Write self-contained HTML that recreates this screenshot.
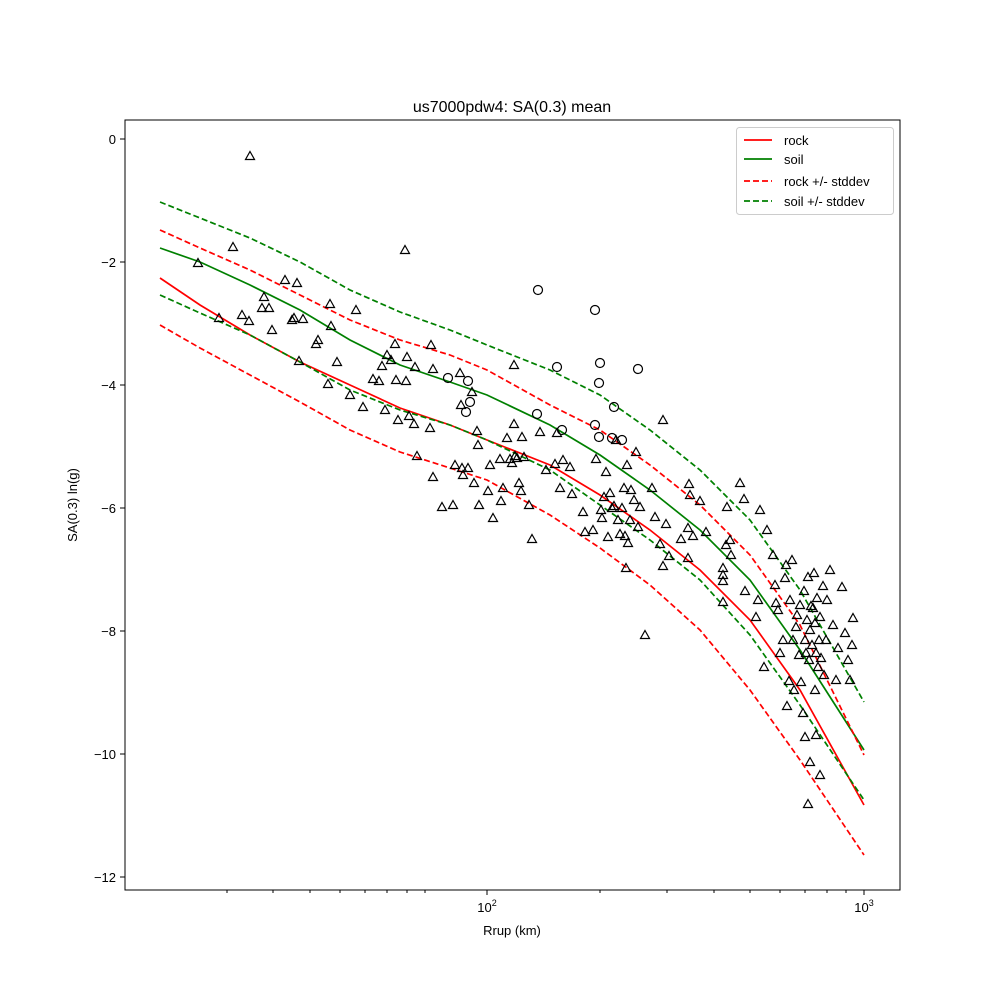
<!DOCTYPE html>
<html><head><meta charset="utf-8"><style>body{margin:0;background:#fff}svg{display:block}</style></head><body>
<svg width="1000" height="1000" viewBox="0 0 1000 1000" xmlns="http://www.w3.org/2000/svg" font-family="Liberation Sans, DejaVu Sans, sans-serif">
<defs><path id="t" d="M0,-4.5 L4.5,3.5 L-4.5,3.5 Z" fill="none" stroke="#000" stroke-width="1.2"/>
<circle id="c" r="4.5" fill="none" stroke="#000" stroke-width="1.2"/></defs>
<rect x="125" y="120" width="775" height="770" fill="none" stroke="#000" stroke-width="1"/>
<text x="512" y="112" font-size="16" text-anchor="middle">us7000pdw4: SA(0.3) mean</text>
<g font-size="13" text-anchor="end">
<line x1="120" x2="125" y1="139" y2="139" stroke="#000"/><text x="116" y="144">0</text>
<line x1="120" x2="125" y1="262" y2="262" stroke="#000"/><text x="116" y="267">−2</text>
<line x1="120" x2="125" y1="385" y2="385" stroke="#000"/><text x="116" y="390">−4</text>
<line x1="120" x2="125" y1="508" y2="508" stroke="#000"/><text x="116" y="513">−6</text>
<line x1="120" x2="125" y1="631" y2="631" stroke="#000"/><text x="116" y="636">−8</text>
<line x1="120" x2="125" y1="754" y2="754" stroke="#000"/><text x="116" y="759">−10</text>
<line x1="120" x2="125" y1="877" y2="877" stroke="#000"/><text x="116" y="882">−12</text>
</g>
<g stroke="#000">
<line x1="487" x2="487" y1="890" y2="895"/><line x1="864" x2="864" y1="890" y2="895"/>
<line x1="227" x2="227" y1="890" y2="893"/><line x1="273" x2="273" y1="890" y2="893"/><line x1="310" x2="310" y1="890" y2="893"/><line x1="340" x2="340" y1="890" y2="893"/><line x1="365" x2="365" y1="890" y2="893"/><line x1="387" x2="387" y1="890" y2="893"/><line x1="407" x2="407" y1="890" y2="893"/><line x1="425" x2="425" y1="890" y2="893"/>
<line x1="600" x2="600" y1="890" y2="893"/><line x1="667" x2="667" y1="890" y2="893"/><line x1="714" x2="714" y1="890" y2="893"/><line x1="750" x2="750" y1="890" y2="893"/><line x1="780" x2="780" y1="890" y2="893"/><line x1="805" x2="805" y1="890" y2="893"/><line x1="827" x2="827" y1="890" y2="893"/><line x1="846" x2="846" y1="890" y2="893"/>
</g>
<text x="487" y="912" font-size="13" text-anchor="middle">10<tspan dy="-6" font-size="9">2</tspan></text>
<text x="864" y="912" font-size="13" text-anchor="middle">10<tspan dy="-6" font-size="9">3</tspan></text>
<text x="512" y="935" font-size="13" text-anchor="middle">Rrup (km)</text>
<text x="77" y="505" font-size="13" text-anchor="middle" transform="rotate(-90 77 505)">SA(0.3) ln(g)</text>
<g fill="none" stroke-width="1.7">
<polyline stroke="#ff0000" points="160,278 200,305 250,335 300,362 350,385 400,408 450,425 487,440 550,465 600,495 650,530 700,570 750,620 800,690 864,805"/>
<polyline stroke="#008000" points="160,248 200,262 250,285 300,310 350,340 400,365 450,382 487,395 550,425 600,455 650,490 700,530 750,580 800,650 864,750"/>
<polyline stroke="#008000" stroke-dasharray="6,3" points="160,202 200,218 250,238 300,262 350,290 400,312 450,330 487,345 550,370 600,395 650,430 700,470 750,520 800,590 864,702"/>
<polyline stroke="#008000" stroke-dasharray="6,3" points="160,295 200,313 250,335 300,362 350,390 400,410 450,425 487,440 550,470 600,505 650,540 700,580 750,635 800,705 864,800"/>
<polyline stroke="#ff0000" stroke-dasharray="6,3" points="160,230 200,248 250,270 300,295 350,320 400,340 450,355 487,370 550,405 600,430 650,465 700,505 750,555 800,625 864,755"/>
<polyline stroke="#ff0000" stroke-dasharray="6,3" points="160,325 200,348 250,375 300,402 350,430 400,452 450,468 487,480 550,515 600,548 650,585 700,630 750,690 800,760 864,855"/>
</g>
<g>
<use href="#c" x="538" y="290"/><use href="#c" x="595" y="310"/><use href="#c" x="557" y="367"/><use href="#c" x="600" y="363"/><use href="#c" x="638" y="369"/><use href="#c" x="599" y="383"/><use href="#c" x="448" y="378"/><use href="#c" x="468" y="381"/><use href="#c" x="470" y="402"/><use href="#c" x="466" y="412"/><use href="#c" x="537" y="414"/><use href="#c" x="562" y="430"/><use href="#c" x="614" y="407"/><use href="#c" x="595" y="425"/><use href="#c" x="622" y="440"/><use href="#c" x="599" y="437"/><use href="#c" x="612" y="438"/>
</g>
<g>
<use href="#t" x="250" y="156"/><use href="#t" x="198" y="263"/><use href="#t" x="233" y="247"/><use href="#t" x="219" y="318"/><use href="#t" x="242" y="315"/><use href="#t" x="249" y="321"/><use href="#t" x="262" y="308"/><use href="#t" x="269" y="308"/><use href="#t" x="264" y="297"/><use href="#t" x="272" y="330"/><use href="#t" x="285" y="280"/><use href="#t" x="297" y="283"/><use href="#t" x="292" y="320"/><use href="#t" x="294" y="318"/><use href="#t" x="303" y="319"/><use href="#t" x="299" y="361"/><use href="#t" x="316" y="344"/><use href="#t" x="318" y="340"/><use href="#t" x="330" y="304"/><use href="#t" x="331" y="326"/><use href="#t" x="337" y="362"/><use href="#t" x="328" y="384"/><use href="#t" x="350" y="395"/><use href="#t" x="356" y="310"/><use href="#t" x="363" y="407"/><use href="#t" x="373" y="379"/><use href="#t" x="379" y="381"/><use href="#t" x="382" y="366"/><use href="#t" x="387" y="355"/><use href="#t" x="391" y="360"/><use href="#t" x="395" y="344"/><use href="#t" x="396" y="380"/><use href="#t" x="405" y="250"/><use href="#t" x="406" y="381"/><use href="#t" x="407" y="357"/><use href="#t" x="415" y="367"/><use href="#t" x="385" y="410"/><use href="#t" x="398" y="420"/><use href="#t" x="409" y="416"/><use href="#t" x="414" y="424"/><use href="#t" x="417" y="456"/><use href="#t" x="430" y="428"/><use href="#t" x="433" y="369"/><use href="#t" x="431" y="345"/><use href="#t" x="433" y="477"/><use href="#t" x="442" y="507"/><use href="#t" x="453" y="505"/><use href="#t" x="455" y="465"/><use href="#t" x="460" y="373"/><use href="#t" x="461" y="405"/><use href="#t" x="462" y="468"/><use href="#t" x="463" y="475"/><use href="#t" x="468" y="468"/><use href="#t" x="472" y="392"/><use href="#t" x="474" y="483"/><use href="#t" x="477" y="431"/><use href="#t" x="478" y="445"/><use href="#t" x="479" y="505"/><use href="#t" x="488" y="491"/><use href="#t" x="490" y="465"/><use href="#t" x="493" y="518"/><use href="#t" x="500" y="459"/><use href="#t" x="501" y="501"/><use href="#t" x="503" y="488"/><use href="#t" x="507" y="438"/><use href="#t" x="510" y="459"/><use href="#t" x="512" y="463"/><use href="#t" x="514" y="365"/><use href="#t" x="514" y="424"/><use href="#t" x="515" y="456"/><use href="#t" x="517" y="458"/><use href="#t" x="519" y="483"/><use href="#t" x="522" y="437"/><use href="#t" x="524" y="457"/><use href="#t" x="521" y="491"/><use href="#t" x="529" y="505"/><use href="#t" x="532" y="539"/><use href="#t" x="540" y="432"/><use href="#t" x="546" y="470"/><use href="#t" x="555" y="464"/><use href="#t" x="557" y="433"/><use href="#t" x="560" y="488"/><use href="#t" x="563" y="460"/><use href="#t" x="570" y="467"/><use href="#t" x="572" y="494"/><use href="#t" x="583" y="512"/><use href="#t" x="585" y="532"/><use href="#t" x="593" y="530"/><use href="#t" x="596" y="459"/><use href="#t" x="601" y="510"/><use href="#t" x="602" y="518"/><use href="#t" x="604" y="497"/><use href="#t" x="606" y="472"/><use href="#t" x="608" y="537"/><use href="#t" x="610" y="493"/><use href="#t" x="612" y="508"/><use href="#t" x="614" y="506"/><use href="#t" x="616" y="440"/><use href="#t" x="618" y="520"/><use href="#t" x="620" y="534"/><use href="#t" x="622" y="508"/><use href="#t" x="624" y="488"/><use href="#t" x="625" y="536"/><use href="#t" x="626" y="568"/><use href="#t" x="627" y="465"/><use href="#t" x="628" y="543"/><use href="#t" x="630" y="520"/><use href="#t" x="631" y="490"/><use href="#t" x="634" y="500"/><use href="#t" x="636" y="452"/><use href="#t" x="638" y="527"/><use href="#t" x="640" y="507"/><use href="#t" x="645" y="635"/><use href="#t" x="652" y="488"/><use href="#t" x="655" y="517"/><use href="#t" x="660" y="544"/><use href="#t" x="663" y="420"/><use href="#t" x="663" y="566"/><use href="#t" x="666" y="524"/><use href="#t" x="669" y="556"/><use href="#t" x="681" y="539"/><use href="#t" x="688" y="528"/><use href="#t" x="688" y="558"/><use href="#t" x="689" y="484"/><use href="#t" x="690" y="495"/><use href="#t" x="693" y="536"/><use href="#t" x="700" y="501"/><use href="#t" x="706" y="532"/><use href="#t" x="723" y="568"/><use href="#t" x="723" y="575"/><use href="#t" x="723" y="581"/><use href="#t" x="723" y="602"/><use href="#t" x="726" y="545"/><use href="#t" x="727" y="507"/><use href="#t" x="730" y="540"/><use href="#t" x="731" y="555"/><use href="#t" x="740" y="483"/><use href="#t" x="744" y="499"/><use href="#t" x="745" y="591"/><use href="#t" x="756" y="617"/><use href="#t" x="758" y="600"/><use href="#t" x="760" y="510"/><use href="#t" x="764" y="667"/><use href="#t" x="767" y="530"/><use href="#t" x="773" y="555"/><use href="#t" x="775" y="585"/><use href="#t" x="776" y="603"/><use href="#t" x="778" y="610"/><use href="#t" x="780" y="653"/><use href="#t" x="783" y="640"/><use href="#t" x="785" y="578"/><use href="#t" x="786" y="565"/><use href="#t" x="787" y="706"/><use href="#t" x="789" y="681"/><use href="#t" x="790" y="600"/><use href="#t" x="792" y="560"/><use href="#t" x="793" y="640"/><use href="#t" x="794" y="690"/><use href="#t" x="796" y="627"/><use href="#t" x="797" y="615"/><use href="#t" x="799" y="655"/><use href="#t" x="800" y="605"/><use href="#t" x="801" y="682"/><use href="#t" x="803" y="713"/><use href="#t" x="804" y="591"/><use href="#t" x="805" y="640"/><use href="#t" x="806" y="653"/><use href="#t" x="807" y="620"/><use href="#t" x="808" y="577"/><use href="#t" x="809" y="660"/><use href="#t" x="810" y="630"/><use href="#t" x="811" y="606"/><use href="#t" x="812" y="645"/><use href="#t" x="813" y="608"/><use href="#t" x="814" y="573"/><use href="#t" x="815" y="623"/><use href="#t" x="815" y="690"/><use href="#t" x="816" y="653"/><use href="#t" x="817" y="598"/><use href="#t" x="818" y="667"/><use href="#t" x="819" y="640"/><use href="#t" x="820" y="617"/><use href="#t" x="821" y="658"/><use href="#t" x="823" y="586"/><use href="#t" x="805" y="737"/><use href="#t" x="810" y="762"/><use href="#t" x="808" y="804"/><use href="#t" x="816" y="735"/><use href="#t" x="820" y="775"/><use href="#t" x="824" y="675"/><use href="#t" x="826" y="640"/><use href="#t" x="827" y="600"/><use href="#t" x="830" y="570"/><use href="#t" x="833" y="625"/><use href="#t" x="836" y="680"/><use href="#t" x="838" y="648"/><use href="#t" x="842" y="587"/><use href="#t" x="845" y="633"/><use href="#t" x="848" y="660"/><use href="#t" x="850" y="680"/><use href="#t" x="852" y="645"/><use href="#t" x="853" y="618"/>
</g>
<g font-size="13">
<rect x="736.5" y="127.5" width="157" height="87" fill="#fff" stroke="#ccc" rx="3"/>
<line x1="744" x2="772" y1="140" y2="140" stroke="#ff0000" stroke-width="1.7"/><text x="784" y="145">rock</text>
<line x1="744" x2="772" y1="159" y2="159" stroke="#008000" stroke-width="1.7"/><text x="784" y="164">soil</text>
<line x1="744" x2="772" y1="181" y2="181" stroke="#ff0000" stroke-width="1.7" stroke-dasharray="6,3"/><text x="784" y="186">rock +/- stddev</text>
<line x1="744" x2="772" y1="201" y2="201" stroke="#008000" stroke-width="1.7" stroke-dasharray="6,3"/><text x="784" y="206">soil +/- stddev</text>
</g>
</svg>
</body></html>
